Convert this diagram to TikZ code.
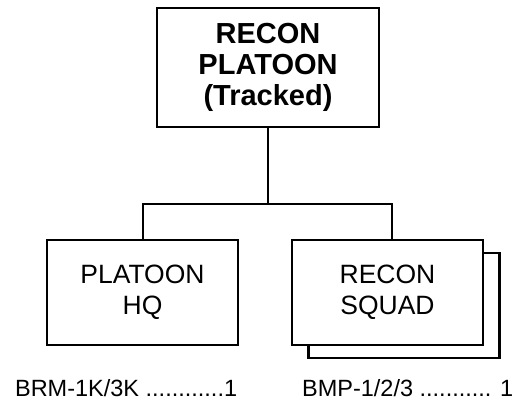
\documentclass[tikz,border=0pt]{standalone}
\usepackage{fontspec}
\setmainfont{Liberation Sans}
\begin{document}
\begin{tikzpicture}[x=1pt,y=-1pt,
  line width=2.2pt,
  unitbox/.style={draw, fill=white, minimum width=191pt, minimum height=105pt, inner sep=0pt, align=center,
    font=\fontsize{26.5}{31}\selectfont},
  topbox/.style={draw, fill=white, minimum width=222pt, minimum height=119pt, inner sep=0pt, align=center,
    font=\fontsize{29}{31}\selectfont\bfseries},
  equip/.style={anchor=base west, inner sep=0pt, font=\fontsize{23.5}{27}\selectfont},
  link/.style={line width=2pt}]
\useasboundingbox (0,0) rectangle (516,404);
\node[topbox] (top) at (268,67.5) {RECON\\PLATOON\\(Tracked)};
\node[unitbox] (shadow) at (404,305.5) {};
\node[unitbox] (rb) at (387.5,292.5) {RECON\\SQUAD};
\node[unitbox] (lb) at (142.5,292.5) {PLATOON\\HQ};
\draw[link] (top.south) -- (top.south |- 0,205);
\draw[link] (lb.north) -- ++(0,-35) -| ([xshift=4pt]rb.north);
\node[equip] (e1) at (14,396) {BRM-1K/3K ............1};
\node[equip] (e2) at (301,396) {BMP-1/2/3 ........... 1};
\end{tikzpicture}
\end{document}
